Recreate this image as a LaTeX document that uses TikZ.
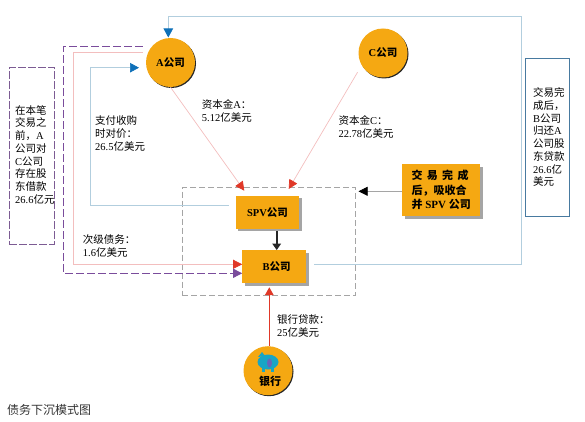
\documentclass[tikz,border=0pt]{standalone}
\usepackage{fontspec}
\setmainfont{Liberation Serif}
\newfontfamily\cjk{Noto Sans CJK SC}
\newcommand{\zh}[1]{{\cjk #1}}
\usetikzlibrary{arrows.meta,shadows}
\definecolor{dealorange}{RGB}{245,168,18}
\definecolor{dealblue}{RGB}{178,206,222}
\definecolor{dealtip}{RGB}{14,112,184}
\definecolor{dealpink}{RGB}{243,190,190}
\definecolor{dealred}{RGB}{224,56,40}
\definecolor{dealpurple}{RGB}{122,76,156}
\definecolor{dealgray}{RGB}{165,165,165}
\definecolor{dealsteel}{RGB}{72,122,160}
\definecolor{dealteal}{RGB}{24,165,196}

\begin{document}
\begin{tikzpicture}[x=1pt,y=-1pt,
    txt/.style={inner sep=0pt,anchor=north west,align=left,
        font=\fontsize{10.5}{12.7}\selectfont},
    firm/.style={circle,fill=dealorange,minimum size=49pt,inner sep=0pt,
        font=\fontsize{10.5}{12.7}\selectfont\bfseries,
        drop shadow={fill=black!85,opacity=1,shadow xshift=1pt,shadow yshift=-1pt}},
    corp/.style={rectangle,fill=dealorange,minimum width=63.6pt,minimum height=33pt,inner sep=0pt,
        font=\fontsize{10.5}{12.7}\selectfont\bfseries,
        drop shadow={fill=dealgray,opacity=1,shadow xshift=2.5pt,shadow yshift=-2.5pt}},
    bluelink/.style={dealblue,line width=0.7pt,-{Triangle[length=9pt,width=9.5pt,color=dealtip]}},
    pinklink/.style={dealpink,line width=0.7pt,-{Triangle[length=9pt,width=9pt,color=dealred]}},
    purplelink/.style={dealpurple,line width=1pt,dash pattern=on 8pt off 3pt,
        -{Triangle[length=9pt,width=9pt,color=dealpurple]}},
    ]
    \useasboundingbox (0,0) rectangle (585,422);
    % Grupo SPV e B
    \node[draw=dealgray,dash pattern=on 6pt off 3pt,line width=0.5pt,minimum width=173.4pt,
        minimum height=108pt,inner sep=0pt] (group) at (269,241.3) {};
    % Empresas
    \node[firm] (afirm) at (170.5,62.5) {A\zh{公司}};
    \node[firm] (cfirm) at (383,53) {C\zh{公司}};
    \node[firm] (bank) at (268,370.7) {};
    \node[corp] (spv) at (267.5,212.2) {SPV\zh{公司}};
    \node[corp] (bfirm) at (274.2,266.8) {\hspace*{5pt}B\zh{公司}};
    % Porquinho
    \fill[dealteal] (268,362) ellipse (10.5pt and 7.5pt);
    \fill[dealteal] (258,357) -- (262,352) -- (265,356) -- cycle;
    \fill[dealteal] (262,367) rectangle (265,372);
    \fill[dealteal] (271,367) rectangle (274,372);
    \fill[black!45!blue!60] (269.5,363) ellipse (2.5pt and 4.5pt);
    \node[font=\fontsize{11}{13}\selectfont\bfseries,inner sep=0pt] (banktxt) at (270,381) {\zh{银行}};
    % Caixas de nota
    \node[draw=dealpurple!70!gray,dash pattern=on 8pt off 2pt,line width=0.5pt,minimum width=45pt,
        minimum height=176.6pt,inner sep=0pt] (leftnote) at (31.8,156) {};
    \node[txt] (lefttxt) at (15,105.2) {\zh{在本笔}\\\zh{交易之}\\\zh{前，}A\\\zh{公司对}\\C\zh{公司}\\\zh{存在股}\\\zh{东借款}\\26.6\zh{亿元}};
    \node[draw=dealsteel,line width=1pt,minimum width=43.7pt,minimum height=157pt,inner sep=0pt] (rightnote) at (547.2,137.5) {};
    \node[txt] (righttxt) at (533,87.7) {\zh{交易完}\\\zh{成后，}\\B\zh{公司}\\\zh{归还}A\\\zh{公司股}\\\zh{东贷款}\\26.6\zh{亿}\\\zh{美元}};
    \node[rectangle,fill=dealorange,minimum width=77.7pt,minimum height=52.3pt,inner sep=0pt,align=left,
        font=\fontsize{11}{14.3}\selectfont\bfseries,
        drop shadow={fill=dealgray,opacity=1,shadow xshift=3pt,shadow yshift=-3pt}] (after) at (441.2,189.8)
        {\hbox to 57pt{\zh{交}\hfil\zh{易}\hfil\zh{完}\hfil\zh{成}}\\\zh{后，吸收合}\\\zh{并} SPV \zh{公司}};
    % Pontos livres
    \coordinate (pathtop) at (521,16.3);
    \coordinate (pathleft) at (168.3,16.3);
    \coordinate (atop) at (168.3,37.5);
    \coordinate (awest) at (139,67.7);
    \coordinate (paycorner) at (90,67.7);
    \coordinate (payturn) at (90,205.3);
    \coordinate (pinkupper) at (73.3,52);
    \coordinate (pinklower) at (73.3,264.3);
    \coordinate (purpleupper) at (63.3,46.3);
    \coordinate (purplelower) at (63.3,273.3);
    \coordinate (spvina) at (244.3,190.7);
    \coordinate (spvinc) at (288.7,189);
    \coordinate (bcorner) at (521,264.3);
    % Ligacoes
    \draw[bluelink,shorten <=8pt] ([yshift=2.5pt]bfirm.east) -- (bcorner) -- (pathtop) -- (pathleft) -- (atop);
    \draw[bluelink,shorten <=6.7pt] ([yshift=6.9pt]spv.west) -- (payturn) -- (paycorner) -- (awest);
    \draw[pinklink] ([xshift=-3pt,yshift=10.5pt]afirm.west) -- (pinkupper) -- (pinklower) -- ([yshift=2.5pt]bfirm.west);
    \draw[purplelink] ([xshift=-3.3pt,yshift=16.2pt]afirm.west) -- (purpleupper) -- (purplelower) -- ([yshift=-6.5pt]bfirm.west);
    \draw[pinklink] (afirm.south) -- (spvina);
    \draw[pinklink,shorten <=8pt] (cfirm.210) -- (spvinc);
    \draw[dealgray,line width=0.6pt,-{Triangle[length=9pt,width=9pt,color=black]}] ([yshift=-1.5pt]after.west) -- ([xshift=2.6pt,yshift=50pt]group.east);
    \draw[black!85,line width=1.7pt,shorten <=2.3pt,-{Triangle[length=6.5pt,width=8.5pt]}] ([xshift=9.2pt]spv.south) -- ([xshift=2.5pt]bfirm.north);
    \draw[dealred,line width=1.5pt,-{Triangle[length=8pt,width=8.5pt]}] ([xshift=1.3pt]bank.north) -- ([xshift=-4.9pt,yshift=-3.7pt]bfirm.south);
    % Rotulos
    \node[txt] (capa) at (201.7,99.7) {\zh{资本金}A\zh{：}\\5.12\zh{亿美元}};
    \node[txt] (capc) at (338.3,115.7) {\zh{资本金}C\zh{：}\\22.78\zh{亿美元}};
    \node[txt] (payment) at (95,115.7) {\zh{支付收购}\\\zh{时对价：}\\26.5\zh{亿美元}};
    \node[txt] (junior) at (82.7,234.7) {\zh{次级债务：}\\1.6\zh{亿美元}};
    \node[txt] (loan) at (277,314.7) {\zh{银行贷款：}\\25\zh{亿美元}};
    \node[txt,font=\fontsize{12}{13}\selectfont,text=black!80] (title) at (7,404) {\zh{债务下沉模式图}};
\end{tikzpicture}
\end{document}
